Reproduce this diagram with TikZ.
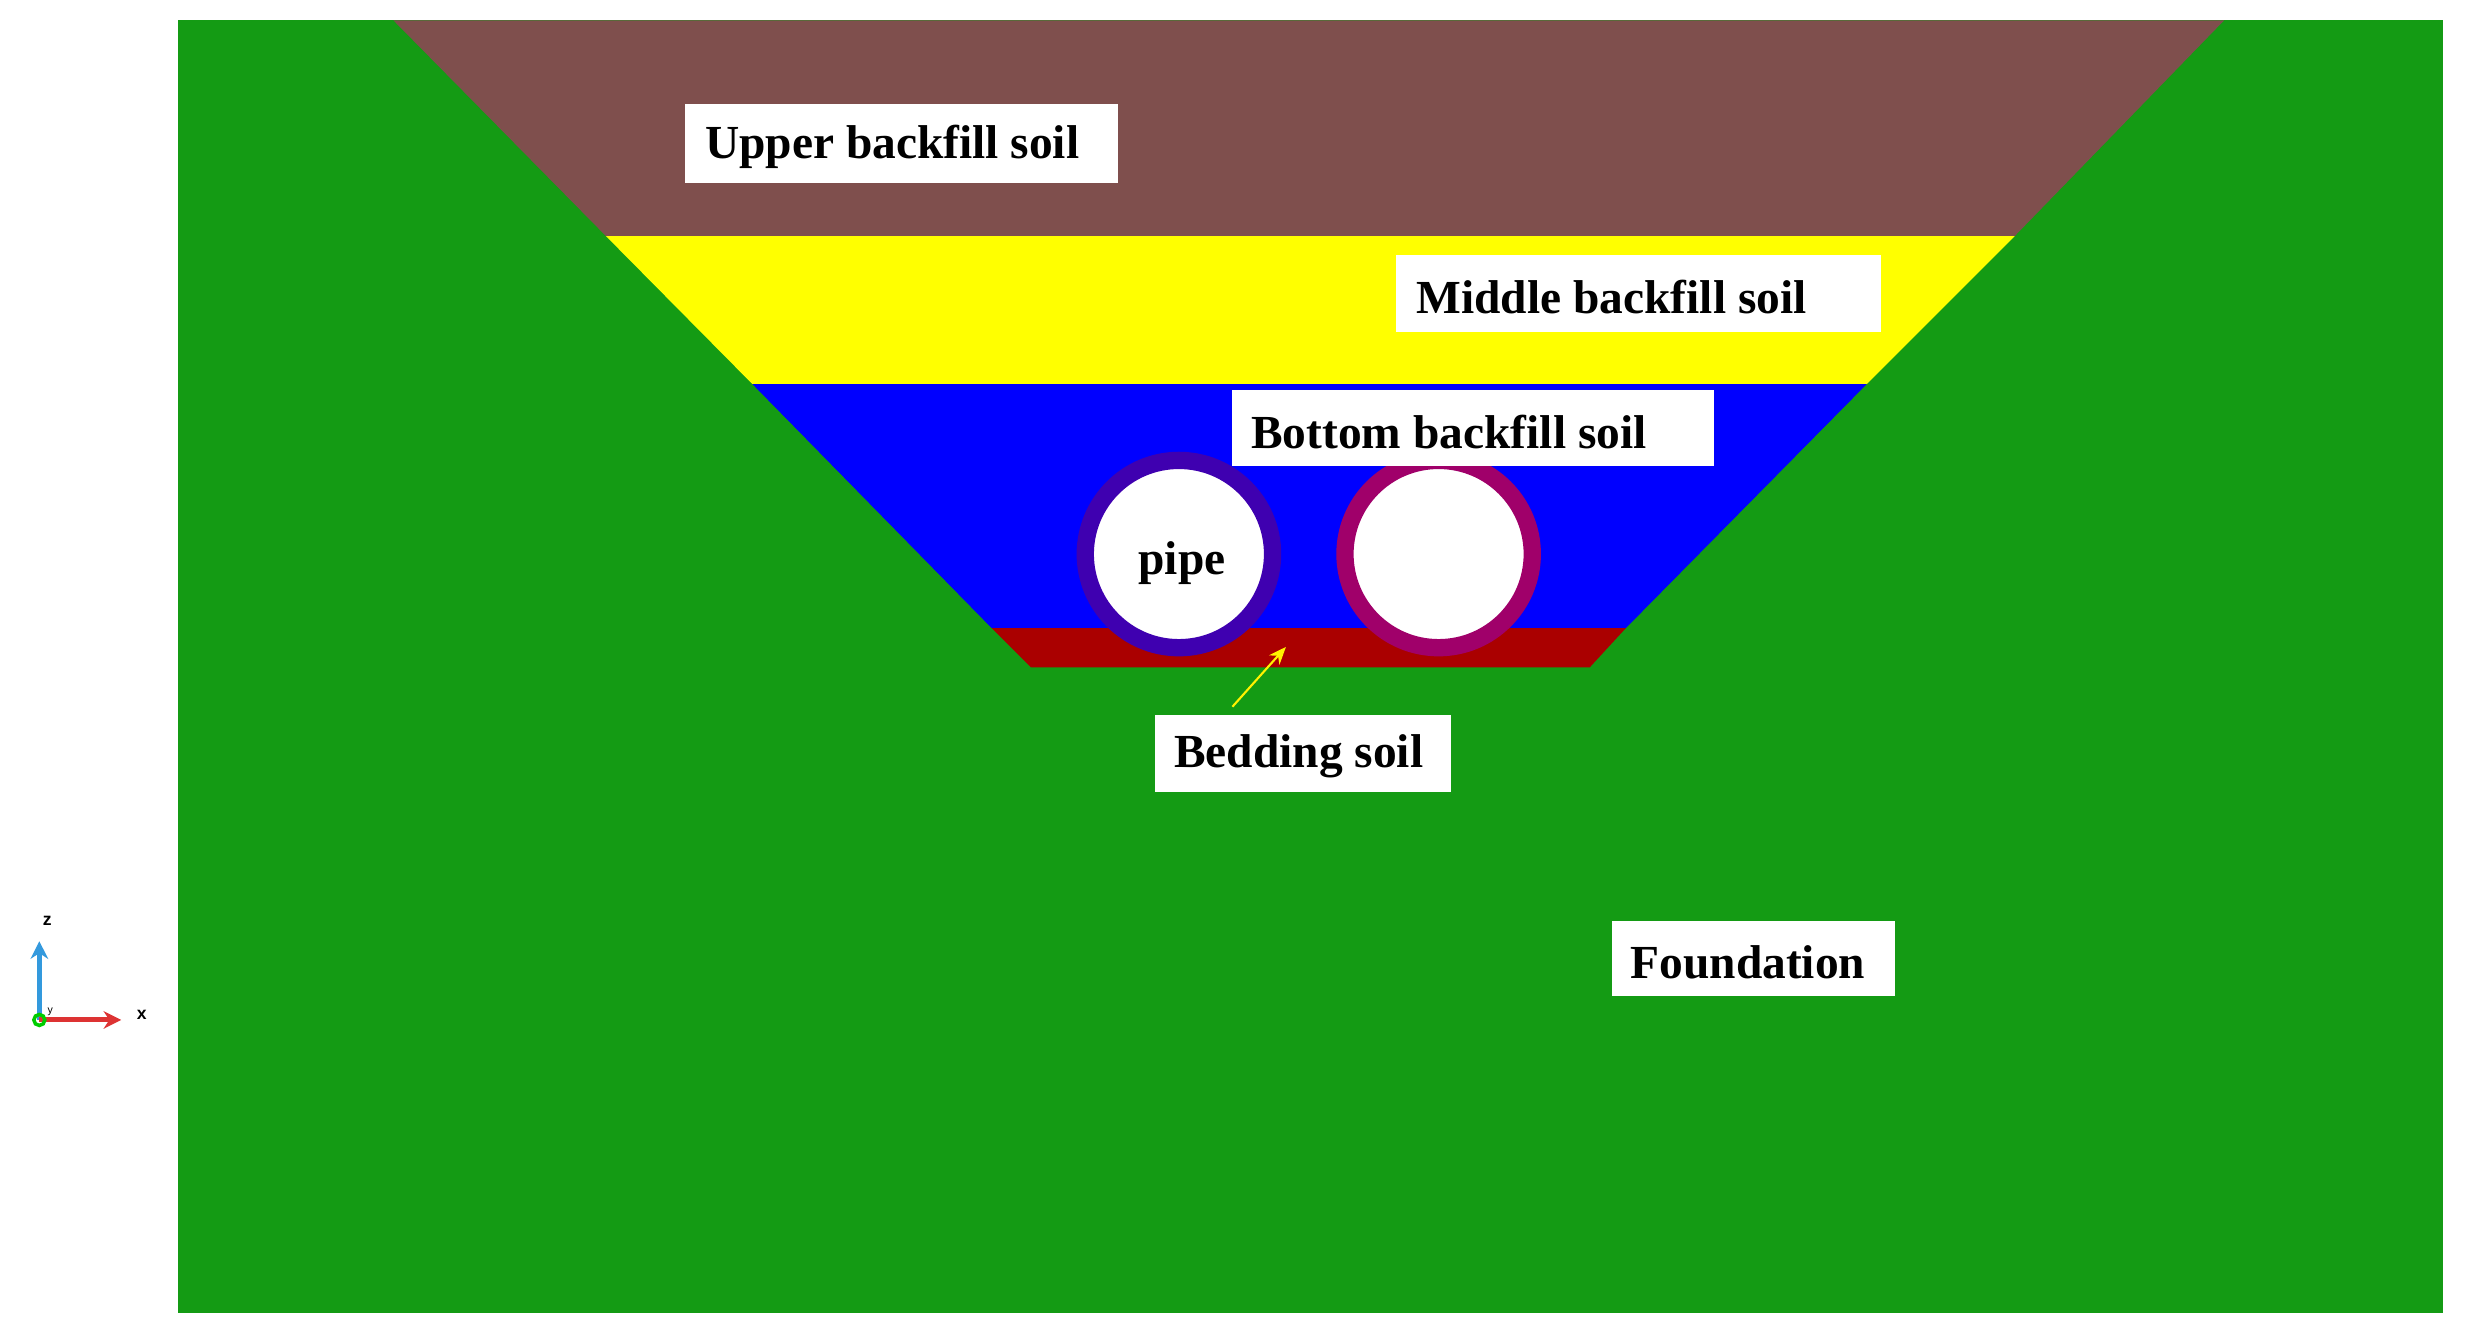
\documentclass[tikz,border=0pt]{standalone}
\usepackage{fontspec}
\usetikzlibrary{arrows.meta}
\setmainfont{Liberation Serif}
\newfontfamily\axfont{Liberation Sans}
\begin{document}
\definecolor{fgreen}{HTML}{149B14}
\definecolor{ubrown}{HTML}{7F4F4D}
\definecolor{myellow}{HTML}{FFFF00}
\definecolor{bred}{HTML}{AA0000}
\definecolor{lpipe}{HTML}{3F00B0}
\definecolor{rpipe}{HTML}{A0006A}
\definecolor{zblue}{HTML}{3399DD}
\definecolor{xred}{HTML}{DD3333}
\begin{tikzpicture}[x=0.01574cm,y=-0.01574cm,
  box/.style={fill=white,inner sep=0pt},
  txt/.style={anchor=west,inner sep=0pt,font=\fontsize{13.5}{15}\selectfont\bfseries},
  ring/.style={circle,line width=11*0.01574cm,fill=white,minimum size=119*0.01574cm,inner sep=0pt},
  ax/.style={line width=1.4pt,-{Stealth[length=5pt,width=5pt]}}]
\useasboundingbox (0,0) rectangle (1568,846);
\fill[white] (0,0) rectangle (1568,846);
\fill[fgreen] (113,13) rectangle (1552,834);
\fill[ubrown] (250,13) -- (1413,13) -- (1280,150) -- (385,150) -- cycle;
\fill[myellow] (385,150) -- (1280,150) -- (1186,244) -- (478,244) -- cycle;
\fill[blue] (478,244) -- (1186,244) -- (1033,399) -- (630,399) -- cycle;
\fill[bred] (630,399) -- (1033,399) -- (1010,424) -- (655,424) -- cycle;
\node[ring,draw=lpipe] (p1) at (749,352) {};
\node[ring,draw=rpipe] (p2) at (914,352) {};
\node[txt,anchor=center] (pt) at (751,358) {pipe};
\node[box,minimum width=275*0.01574cm,minimum height=50*0.01574cm] (u) at (572.5,91) {};
\node[txt] (ut) at ([xshift=13*0.01574cm,yshift=-1pt]u.west) {Upper backfill soil};
\node[box,minimum width=308*0.01574cm,minimum height=49*0.01574cm] (m) at (1041,186.5) {};
\node[txt] (mt) at ([xshift=13*0.01574cm,yshift=-1pt]m.west) {Middle backfill soil};
\node[box,minimum width=306*0.01574cm,minimum height=48*0.01574cm] (b) at (936,272) {};
\node[txt] (bt) at ([xshift=12*0.01574cm,yshift=-1pt]b.west) {Bottom backfill soil};
\node[box,minimum width=188*0.01574cm,minimum height=49*0.01574cm] (bd) at (828,478.5) {};
\node[txt] (bdt) at ([xshift=12*0.01574cm,yshift=-1pt]bd.west) {Bedding soil};
\node[box,minimum width=180*0.01574cm,minimum height=48*0.01574cm] (f) at (1114,609) {};
\node[txt] (ft) at ([xshift=12*0.01574cm,yshift=-1pt]f.west) {Foundation};
\coordinate (a0) at (783,449);
\coordinate (a1) at (817,411);
\draw[myellow!90!orange,line width=0.6pt,-{Stealth[length=5pt,width=4pt]}] (a0) -- (a1);
\coordinate (o) at (25,648);
\coordinate (zt) at (25,598);
\coordinate (xt) at (77,648);
\draw[ax,zblue] (o) -- (zt);
\draw[ax,xred] (o) -- (xt);
\draw[green!80!black,line width=1pt] (o) circle (3.5);
\node[font=\axfont\fontsize{5}{6}\selectfont\bfseries] (zl) at (30,585) {z};
\node[font=\axfont\fontsize{5}{6}\selectfont\bfseries] (xl) at (90,645) {x};
\node[font=\axfont\fontsize{3}{4}\selectfont] (yl) at (32,643) {y};
\end{tikzpicture}
\end{document}
